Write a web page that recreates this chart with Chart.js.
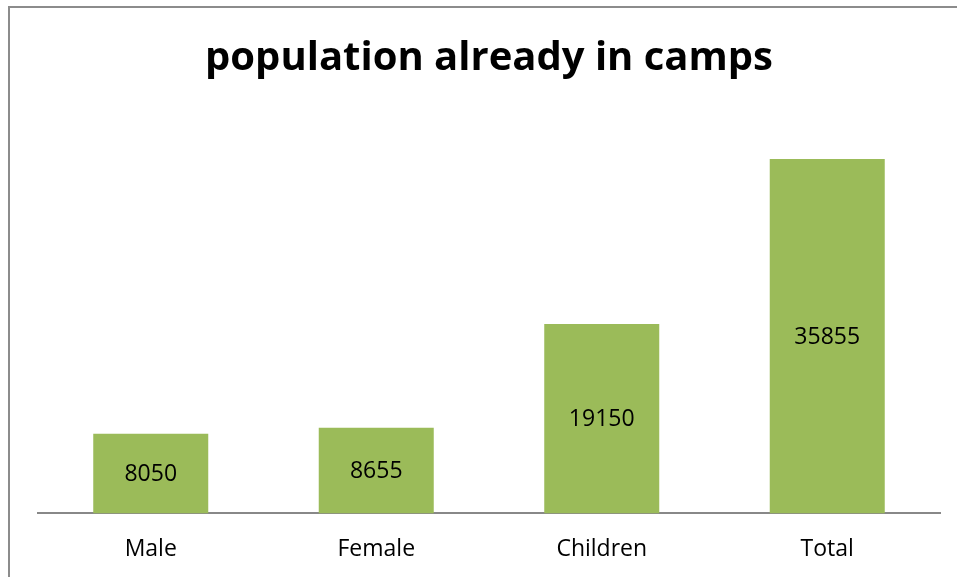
<!DOCTYPE html>
<html>
<head>
<meta charset="utf-8">
<script src="https://cdn.jsdelivr.net/npm/chart.js@4/dist/chart.umd.min.js"></script>
<style>
  html, body { margin: 0; padding: 0; background: #fff; overflow: hidden; }
  #frame { position: absolute; left: 8px; top: 6px; width: 1000px; height: 600px; border: 2px solid #8c8c8c; box-sizing: border-box; }
  #wrap { position: absolute; left: 0; top: 0; width: 957px; height: 585px; }
</style>
</head>
<body>
<div id="frame"></div>
<div id="wrap"><canvas id="chart"></canvas></div>
<script>
// values
const categories = ["Male", "Female", "Children", "Total"];
const population = [8050, 8655, 19150, 35855];
const chartTitle = "population already in camps";

// write each value in the middle of its bar
const barValues = {
  id: "barValues",
  afterDatasetsDraw(chart) {
    const ctx = chart.ctx;
    const meta = chart.getDatasetMeta(0);
    ctx.save();
    ctx.font = "23px 'Open Sans'";
    ctx.fillStyle = "#000";
    ctx.textAlign = "center";
    ctx.textBaseline = "middle";
    meta.data.forEach((bar, i) => {
      const mid = (bar.y + bar.base) / 2;
      ctx.fillText(population[i], bar.x, mid + 1);
    });
    ctx.restore();
  }
};

new Chart(document.getElementById("chart").getContext("2d"), {
  type: "bar",
  data: {
    labels: categories,
    datasets: [{
      data: population,
      backgroundColor: "#9bbb59",
      barPercentage: 0.51,
      categoryPercentage: 1
    }]
  },
  options: {
    responsive: true,
    maintainAspectRatio: false,
    animation: false,
    layout: { padding: { left: 38, right: 17, top: 0, bottom: 0 } },
    plugins: {
      legend: { display: false },
      tooltip: { enabled: false },
      title: {
        display: true,
        text: chartTitle,
        color: "#000",
        font: { family: "'Open Sans'", size: 40, weight: "bold" },
        padding: { top: 35, bottom: 35 }
      }
    },
    scales: {
      x: {
        grid: { display: false, drawTicks: false },
        border: { display: true, color: "#888", width: 2 },
        ticks: { color: "#000", padding: 22, font: { family: "'Open Sans'", size: 23 } }
      },
      y: { display: false, min: 0, max: 40000 }
    }
  },
  plugins: [barValues]
});
</script>
</body>
</html>
